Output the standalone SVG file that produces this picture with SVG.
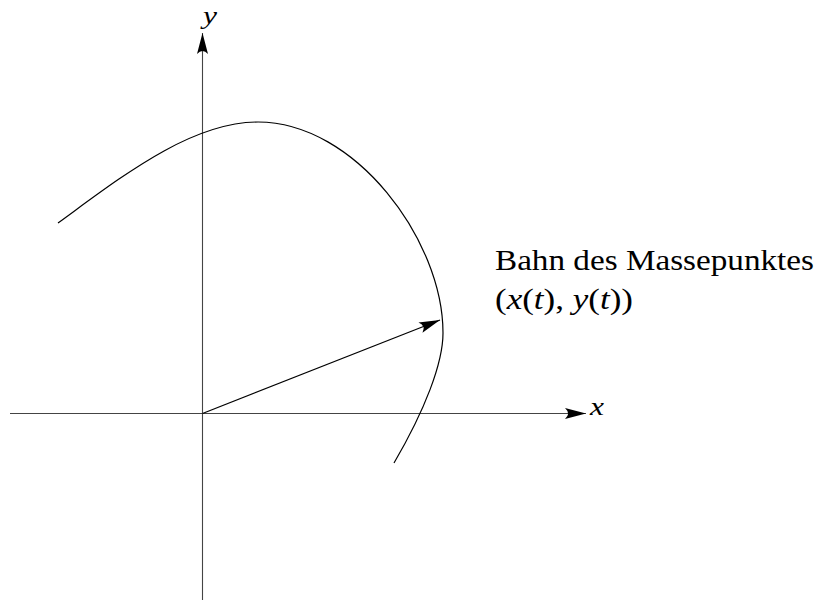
<svg xmlns="http://www.w3.org/2000/svg" width="820" height="602" viewBox="0 0 820 602">
<style>
.axis{stroke:#444;stroke-width:1.1;fill:none}
.curve{stroke:#000;stroke-width:1.2;fill:none}
.lbl{font-family:"Liberation Serif","DejaVu Serif",serif;fill:#000}
.it{font-style:italic}
</style>
<defs>
<marker id="ah" markerUnits="userSpaceOnUse" markerWidth="24" markerHeight="14" viewBox="-22 -7 24 14" refX="0" refY="0" orient="auto">
<path d="M0,0 L-21,-5.5 Q-15,0 -21,5.5 Z" fill="#000"/>
</marker>
</defs>
<rect width="820" height="602" fill="#fff"/>
<g id="connectors">
<line id="x-axis" class="axis" x1="10" y1="413.5" x2="586" y2="413.5" marker-end="url(#ah)"/>
<line id="y-axis" class="axis" x1="202.5" y1="600" x2="202.5" y2="33" marker-end="url(#ah)"/>
<line id="vector" class="curve" x1="202.5" y1="413.5" x2="440" y2="320" marker-end="url(#ah)"/>
</g>
<g id="trajectory">
<path class="curve" d="M58,223 C120,178 190,122 258,122 C355,122 443,240 443,333 C443,363 425,410 394,463"/>
</g>
<g id="labels">
<text class="lbl it" x="590" y="414.5" font-size="25" textLength="14" lengthAdjust="spacingAndGlyphs">x</text>
<text class="lbl it" x="203" y="23.5" font-size="25" textLength="14" lengthAdjust="spacingAndGlyphs">y</text>
<text class="lbl" x="495" y="269.5" font-size="29" textLength="319" lengthAdjust="spacingAndGlyphs">Bahn des Massepunktes</text>
<text class="lbl" x="495" y="309" font-size="29" textLength="138" lengthAdjust="spacingAndGlyphs">(<tspan class="it">x</tspan>(<tspan class="it">t</tspan>), <tspan class="it">y</tspan>(<tspan class="it">t</tspan>))</text>
</g>
</svg>
